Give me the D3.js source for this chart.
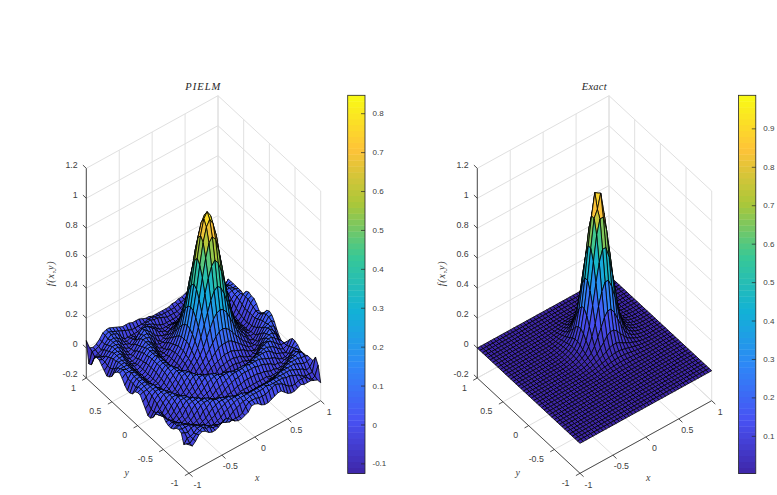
<!DOCTYPE html>
<html>
<head>
<meta charset="utf-8">
<style>
  html, body { margin: 0; padding: 0; background: #fff; }
  svg { display: block; }
  text { font-family: "Liberation Sans", Arial, sans-serif; fill: #404040; }
  .math { font-family: "Liberation Serif", serif; font-style: italic; }
</style>
<script src="https://d3js.org/d3.v7.min.js"></script>
</head>
<body>
<svg id="fig" width="777" height="495"></svg>
<script>
// Axis ticks shared by both surface panels
const xTicks = [-1, -0.5, 0, 0.5, 1];
const yTicks = [-1, -0.5, 0, 0.5, 1];
const zTicks = [-0.2, 0, 0.2, 0.4, 0.6, 0.8, 1, 1.2];
const meshX = d3.range(41);
const meshStep = 0.05;

// Colour bar ranges and ticks
const pielmRange = [-0.126, 0.846];
const exactRange = [0.002, 0.986];
const pielmBarTicks = [-0.1, 0, 0.1, 0.2, 0.3, 0.4, 0.5, 0.6, 0.7, 0.8];
const exactBarTicks = [0.1, 0.2, 0.3, 0.4, 0.5, 0.6, 0.7, 0.8, 0.9];

// Parula colour stops
const parula = ["#3e26a8", "#4852f4", "#2e87f7", "#12b1d6", "#37c897", "#abc739", "#fec338", "#f9fb14"];

// PIELM solution, one row per y from -1 to 1, one column per x from -1 to 1
const pielmZ = [
[-.01,-.03,-.01,.02,.03,.02,0,-.01,-.01,0,.02,.03,.02,0,-.02,-.03,-.03,-.02,-.01,.02,.02,.01,-.01,-.02,-.02,-.01,0,.01,.01,-.01,-.03,-.04,-.04,-.03,-.02,-.03,-.03,-.03,-.04,-.05,-.08],
[-.02,-.03,-.01,.01,.02,.03,.01,.01,-.01,-.01,-.01,-.01,-.02,-.03,-.03,-.03,-.03,-.02,.01,.03,.03,.03,.02,.02,.02,.03,.04,.05,.04,.03,.01,-.01,-.02,-.02,-.01,-.01,-.01,-.03,-.05,-.04,.02],
[-.04,-.01,-.01,0,.02,.02,.02,0,-.01,-.02,-.03,-.04,-.03,-.03,-.02,0,.01,.02,.03,.03,.04,.04,.04,.04,.04,.05,.04,.04,.04,.04,.04,.03,.03,.02,.01,0,-.02,-.03,-.03,-.03,.06],
[.02,.01,0,.02,.02,.01,0,-.01,-.03,-.04,-.04,-.03,-.02,0,.01,.02,.03,.04,.04,.04,.04,.04,.04,.04,.04,.04,.04,.04,.04,.04,.04,.04,.04,.04,.03,.02,.01,0,-.02,-.01,.02],
[.03,.02,.02,.02,.01,0,-.02,-.03,-.04,-.03,-.02,-.01,.01,.02,.03,.04,.04,.04,.04,.04,.03,.02,.02,.02,.02,.02,.02,.02,.02,.02,.03,.04,.04,.04,.04,.04,.03,.02,.01,.01,.02],
[.02,.03,.02,.01,0,-.02,-.03,-.04,-.03,-.02,0,.02,.03,.04,.04,.04,.04,.03,.02,.01,0,0,-.01,-.01,-.01,-.02,-.01,-.01,-.01,0,0,.01,.02,.03,.04,.04,.04,.04,.03,.03,.02],
[0,.01,.02,0,-.02,-.03,-.04,-.03,-.02,.01,.02,.04,.05,.04,.04,.03,.02,0,-.01,-.02,-.02,-.02,-.03,-.03,-.03,-.03,-.03,-.03,-.03,-.02,-.02,-.02,-.01,0,.02,.03,.04,.04,.05,.04,.01],
[-.01,.01,0,-.01,-.03,-.04,-.03,-.01,.01,.03,.04,.04,.04,.03,.02,0,-.01,-.02,-.03,-.03,-.03,-.02,-.02,-.02,-.02,-.02,-.02,-.02,-.02,-.02,-.03,-.03,-.03,-.02,-.01,0,.02,.03,.04,.03,.01],
[-.01,0,-.01,-.03,-.04,-.03,-.02,.01,.03,.04,.04,.04,.03,.01,-.01,-.02,-.03,-.03,-.02,-.02,-.01,0,0,.01,.01,.01,.01,.01,0,0,-.01,-.02,-.02,-.03,-.03,-.02,-.01,.01,.03,.03,.01],
[0,0,-.02,-.04,-.03,-.02,.01,.03,.04,.04,.04,.02,0,-.02,-.02,-.03,-.02,-.02,0,.01,.02,.03,.03,.04,.04,.04,.04,.04,.03,.03,.02,.01,0,-.02,-.02,-.03,-.02,-.02,0,.02,.03],
[.02,-.01,-.03,-.04,-.02,0,.02,.04,.04,.04,.02,0,-.02,-.03,-.03,-.02,0,.01,.02,.03,.04,.05,.05,.05,.05,.06,.05,.05,.05,.05,.04,.03,.02,.01,0,-.02,-.03,-.03,-.02,.01,.04],
[.03,-.01,-.04,-.03,-.01,.02,.04,.04,.04,.02,0,-.02,-.03,-.02,-.01,0,.02,.04,.05,.05,.05,.05,.04,.04,.04,.04,.04,.04,.04,.05,.05,.05,.05,.04,.02,0,-.01,-.02,-.03,0,.04],
[.02,-.02,-.03,-.02,.01,.03,.05,.04,.03,0,-.02,-.03,-.02,-.01,.01,.03,.04,.05,.05,.04,.04,.03,.02,.01,.01,.01,.01,.01,.02,.03,.04,.04,.05,.05,.04,.03,.01,-.01,-.02,-.01,.02],
[-.01,-.03,-.03,0,.02,.04,.04,.03,.01,-.02,-.03,-.02,-.01,.01,.03,.05,.06,.05,.04,.02,.01,-.01,-.02,-.03,-.03,-.04,-.03,-.03,-.02,-.01,.01,.02,.04,.05,.06,.05,.03,.01,-.01,-.01,-.01],
[-.05,-.03,-.02,.01,.03,.04,.04,.02,-.01,-.02,-.03,-.01,.01,.03,.05,.05,.04,.03,.01,-.01,-.03,-.04,-.04,-.05,-.05,-.05,-.05,-.05,-.04,-.04,-.03,-.01,.01,.03,.04,.05,.05,.03,.01,-.01,-.04],
[-.07,-.04,0,.02,.04,.04,.03,0,-.02,-.03,-.02,0,.03,.05,.05,.04,.02,0,-.03,-.04,-.05,-.04,-.03,-.03,-.02,-.02,-.02,-.03,-.03,-.04,-.05,-.04,-.03,0,.02,.04,.05,.05,.03,-.02,-.05],
[-.07,-.04,.01,.03,.04,.04,.02,-.01,-.03,-.02,0,.02,.04,.06,.04,.02,-.01,-.03,-.04,-.05,-.04,-.03,-.01,-.01,0,0,0,-.01,-.01,-.03,-.04,-.05,-.04,-.03,-.01,.02,.04,.06,.04,.01,-.03],
[-.04,-.02,.02,.04,.04,.03,0,-.02,-.03,-.02,.01,.04,.05,.05,.03,0,-.03,-.05,-.04,-.03,-.01,0,.01,.02,.03,.03,.03,.02,.01,0,-.01,-.03,-.04,-.05,-.03,0,.03,.05,.05,.04,0],
[-.01,.01,.03,.04,.04,.02,-.01,-.03,-.02,0,.02,.05,.05,.04,.01,-.03,-.04,-.04,-.03,-.01,.01,.03,.05,.07,.08,.08,.08,.07,.05,.03,.01,-.01,-.03,-.04,-.04,-.03,.01,.04,.05,.06,.04],
[.02,.03,.03,.04,.04,.01,-.02,-.03,-.02,.01,.03,.05,.04,.02,-.01,-.04,-.05,-.03,-.01,.01,.04,.07,.10,.13,.15,.16,.15,.13,.10,.07,.04,.01,-.01,-.03,-.05,-.04,-.01,.02,.04,.07,.07],
[.02,.03,.04,.04,.03,0,-.02,-.03,-.01,.02,.04,.05,.04,.01,-.03,-.05,-.04,-.01,.01,.04,.08,.13,.18,.23,.26,.27,.26,.23,.18,.13,.08,.04,.01,-.01,-.04,-.05,-.03,.01,.04,.07,.08],
[.01,.03,.04,.04,.02,0,-.02,-.02,0,.03,.05,.05,.03,-.01,-.04,-.04,-.03,0,.03,.07,.13,.20,.27,.34,.39,.41,.39,.34,.27,.20,.13,.07,.03,0,-.03,-.04,-.04,-.01,.03,.06,.07],
[-.02,.01,.04,.04,.02,-.01,-.03,-.02,0,.03,.05,.04,.02,-.02,-.04,-.04,-.01,.01,.05,.10,.18,.27,.38,.47,.54,.57,.54,.47,.38,.27,.18,.10,.05,.01,-.01,-.04,-.04,-.02,.02,.04,.04],
[-.03,.02,.04,.04,.02,-.01,-.03,-.02,.01,.04,.05,.04,.01,-.03,-.05,-.03,-.01,.02,.07,.13,.23,.34,.47,.59,.68,.71,.68,.59,.47,.34,.23,.13,.07,.02,-.01,-.03,-.05,-.03,.01,.03,.02],
[-.03,.02,.04,.04,.02,-.01,-.03,-.02,.01,.04,.05,.04,.01,-.03,-.05,-.03,0,.03,.08,.15,.26,.39,.54,.68,.77,.81,.77,.68,.54,.39,.26,.15,.08,.03,0,-.03,-.05,-.03,.01,.03,.02],
[-.01,.02,.05,.04,.02,-.02,-.03,-.02,.01,.04,.06,.04,.01,-.04,-.05,-.03,0,.03,.08,.16,.27,.41,.57,.71,.81,.846,.81,.71,.57,.41,.27,.16,.08,.03,0,-.03,-.05,-.04,.01,.04,.05],
[.02,.04,.04,.04,.02,-.01,-.03,-.02,.01,.04,.05,.04,.01,-.03,-.05,-.03,0,.03,.08,.15,.26,.39,.54,.68,.77,.81,.77,.68,.54,.39,.26,.15,.08,.03,0,-.03,-.05,-.03,.01,.05,.07],
[.04,.05,.04,.04,.02,-.01,-.03,-.02,.01,.04,.05,.04,.01,-.03,-.05,-.03,-.01,.02,.07,.13,.23,.34,.47,.59,.68,.71,.68,.59,.47,.34,.23,.13,.07,.02,-.01,-.03,-.05,-.03,.01,.06,.07],
[.03,.04,.04,.04,.02,-.01,-.03,-.02,0,.03,.05,.04,.02,-.02,-.04,-.04,-.01,.01,.05,.10,.18,.27,.38,.47,.54,.57,.54,.47,.38,.27,.18,.10,.05,.01,-.01,-.04,-.04,-.02,.02,.06,.08],
[.01,.03,.04,.04,.02,0,-.02,-.02,0,.03,.05,.05,.03,-.01,-.04,-.04,-.03,0,.03,.07,.13,.20,.27,.34,.39,.41,.39,.34,.27,.20,.13,.07,.03,0,-.03,-.04,-.04,-.01,.03,.06,.07],
[-.03,.01,.04,.04,.03,0,-.02,-.03,-.01,.02,.04,.05,.04,.01,-.03,-.05,-.04,-.01,.01,.04,.08,.13,.18,.23,.26,.27,.26,.23,.18,.13,.08,.04,.01,-.01,-.04,-.05,-.03,.01,.04,.05,.03],
[-.05,-.01,.03,.04,.04,.01,-.02,-.03,-.02,.01,.03,.05,.04,.02,-.01,-.04,-.05,-.03,-.01,.01,.04,.07,.10,.13,.15,.16,.15,.13,.10,.07,.04,.01,-.01,-.03,-.05,-.04,-.01,.02,.04,.05,.04],
[-.06,-.02,.03,.04,.04,.02,-.01,-.03,-.02,0,.02,.05,.05,.04,.01,-.03,-.04,-.04,-.03,-.01,.01,.03,.05,.07,.08,.08,.08,.07,.05,.03,.01,-.01,-.03,-.04,-.04,-.03,.01,.04,.05,.05,.04],
[-.04,-.02,.02,.04,.04,.03,0,-.02,-.03,-.02,.01,.04,.05,.05,.03,0,-.03,-.05,-.04,-.03,-.01,0,.01,.02,.03,.03,.03,.02,.01,0,-.01,-.03,-.04,-.05,-.03,0,.03,.05,.05,.04,.04],
[-.02,-.01,.01,.03,.04,.04,.02,-.01,-.03,-.02,0,.02,.04,.06,.04,.02,-.01,-.03,-.04,-.05,-.04,-.03,-.01,-.01,0,0,0,-.01,-.01,-.03,-.04,-.05,-.04,-.03,-.01,.02,.04,.05,.05,.04,.04],
[0,-.01,0,.02,.04,.04,.03,0,-.02,-.03,-.02,0,.03,.05,.05,.04,.02,0,-.03,-.04,-.05,-.04,-.03,-.03,-.02,-.02,-.02,-.03,-.03,-.04,-.05,-.04,-.03,0,.02,.04,.05,.05,.03,.03,.04],
[0,-.01,-.02,.01,.03,.04,.04,.02,-.01,-.02,-.03,-.01,-.02,0,.02,.02,.01,0,-.02,-.04,-.05,-.05,-.05,-.05,-.05,-.05,-.05,-.05,-.04,-.04,-.03,-.01,.01,.03,.04,.05,.05,.03,.01,.01,.04],
[-.02,-.02,-.03,0,.02,.04,.04,.03,.01,-.02,-.03,-.02,-.02,-.04,-.02,0,.01,0,-.01,-.03,-.04,-.05,-.05,-.05,-.05,-.05,-.04,-.03,-.02,-.01,.01,.02,.03,.04,.05,.05,.03,.01,-.01,0,-.01],
[-.08,-.04,-.03,-.02,.01,.03,.05,.04,.03,0,-.03,-.03,-.03,-.03,-.03,-.02,-.01,0,0,-.01,-.01,-.02,-.03,-.04,-.04,-.04,-.04,-.03,-.02,-.01,0,.02,.03,.03,.03,.02,.01,-.01,-.02,-.03,-.03],
[-.09,-.02,-.02,-.01,.01,.04,.05,.04,.03,.02,.01,0,-.01,-.02,-.02,-.02,-.02,-.02,-.01,-.01,-.02,-.02,-.03,-.03,-.03,-.03,-.03,-.02,-.02,-.01,0,.01,.02,.02,.01,0,-.01,-.02,-.03,-.02,-.02],
[.05,-.01,-.02,-.01,.01,.04,.05,.05,.04,.03,.02,.01,.01,.01,0,0,0,-.01,-.02,-.02,-.03,-.03,-.03,-.03,-.03,-.03,-.02,-.02,-.01,-.01,0,.01,.02,.02,.02,.01,0,-.01,-.02,-.01,0]
];

// Exact solution on the same mesh
const exactZ = [
[0,0,0,0,0,0,0,0,0,0,0,0,0,0,0,0,0,0,0,0,0,0,0,0,0,0,0,0,0,0,0,0,0,0,0,0,0,0,0,0,0],
[0,0,0,0,0,0,0,0,0,0,0,0,0,0,0,0,0,0,0,0,0,0,0,0,0,0,0,0,0,0,0,0,0,0,0,0,0,0,0,0,0],
[0,0,0,0,0,0,0,0,0,0,0,0,0,0,0,0,0,0,0,0,0,0,0,0,0,0,0,0,0,0,0,0,0,0,0,0,0,0,0,0,0],
[0,0,0,0,0,0,0,0,0,0,0,0,0,0,0,0,0,0,0,0,0,0,0,0,0,0,0,0,0,0,0,0,0,0,0,0,0,0,0,0,0],
[0,0,0,0,0,0,0,0,0,0,0,0,0,0,0,0,0,0,0,0,0,0,0,0,0,0,0,0,0,0,0,0,0,0,0,0,0,0,0,0,0],
[0,0,0,0,0,0,0,0,0,0,0,0,0,0,0,0,0,0,0,0,0,0,0,0,0,0,0,0,0,0,0,0,0,0,0,0,0,0,0,0,0],
[0,0,0,0,0,0,0,0,0,0,0,0,0,0,0,0,0,0,0,0,0,0,0,0,0,0,0,0,0,0,0,0,0,0,0,0,0,0,0,0,0],
[0,0,0,0,0,0,0,0,0,0,0,0,0,0,0,0,0,0,0,0,0,0,0,0,0,0,0,0,0,0,0,0,0,0,0,0,0,0,0,0,0],
[0,0,0,0,0,0,0,0,0,0,0,0,0,0,0,0,0,0,0,0,0,0,0,0,0,0,0,0,0,0,0,0,0,0,0,0,0,0,0,0,0],
[0,0,0,0,0,0,0,0,0,0,0,0,0,0,0,0,0,0,0,0,0,0,0,0,0,0,0,0,0,0,0,0,0,0,0,0,0,0,0,0,0],
[0,0,0,0,0,0,0,0,0,0,0,0,0,0,0,0,0,0,0,0,0,0,0,0,0,0,0,0,0,0,0,0,0,0,0,0,0,0,0,0,0],
[0,0,0,0,0,0,0,0,0,0,0,0,0,0,0,0,0,0,0,0,0,0,0,0,0,0,0,0,0,0,0,0,0,0,0,0,0,0,0,0,0],
[0,0,0,0,0,0,0,0,0,0,0,0,0,0,0,0,0,0,0,0,0,0,0,0,0,0,0,0,0,0,0,0,0,0,0,0,0,0,0,0,0],
[0,0,0,0,0,0,0,0,0,0,0,0,0,0,0,0,0,0,0,0,0,.001,.002,.002,.002,.002,.002,.002,.001,0,0,0,0,0,0,0,0,0,0,0,0],
[0,0,0,0,0,0,0,0,0,0,0,0,0,0,0,0,0,0,0,.001,.003,.004,.005,.006,.006,.006,.006,.005,.004,.003,.001,0,0,0,0,0,0,0,0,0,0],
[0,0,0,0,0,0,0,0,0,0,0,0,0,0,0,0,0,.001,.002,.004,.006,.008,.01,.012,.013,.013,.012,.01,.008,.006,.004,.002,.001,0,0,0,0,0,0,0,0],
[0,0,0,0,0,0,0,0,0,0,0,0,0,0,0,0,.001,.003,.005,.008,.012,.016,.02,.023,.025,.025,.023,.02,.016,.012,.008,.005,.003,.001,0,0,0,0,0,0,0],
[0,0,0,0,0,0,0,0,0,0,0,0,0,0,0,.001,.003,.006,.01,.015,.021,.028,.034,.04,.043,.043,.04,.034,.028,.021,.015,.01,.006,.003,.001,0,0,0,0,0,0],
[0,0,0,0,0,0,0,0,0,0,0,0,0,0,0,.002,.005,.01,.016,.025,.034,.046,.057,.072,.079,.079,.072,.057,.046,.034,.025,.016,.01,.005,.002,0,0,0,0,0,0],
[0,0,0,0,0,0,0,0,0,0,0,0,0,0,.001,.004,.008,.015,.025,.037,.052,.079,.103,.134,.151,.151,.134,.103,.079,.052,.037,.025,.015,.008,.004,.001,0,0,0,0,0],
[0,0,0,0,0,0,0,0,0,0,0,0,0,0,.003,.006,.012,.021,.034,.052,.087,.134,.186,.242,.275,.275,.242,.186,.134,.087,.052,.034,.021,.012,.006,.003,0,0,0,0,0],
[0,0,0,0,0,0,0,0,0,0,0,0,0,.001,.004,.008,.016,.028,.046,.079,.134,.208,.312,.398,.452,.452,.398,.312,.208,.134,.079,.046,.028,.016,.008,.004,.001,0,0,0,0],
[0,0,0,0,0,0,0,0,0,0,0,0,0,.002,.005,.01,.02,.034,.057,.103,.186,.312,.452,.577,.654,.654,.577,.452,.312,.186,.103,.057,.034,.02,.01,.005,.002,0,0,0,0],
[0,0,0,0,0,0,0,0,0,0,0,0,0,.002,.006,.012,.023,.04,.072,.134,.242,.398,.577,.745,.841,.841,.745,.577,.398,.242,.134,.072,.04,.023,.012,.006,.002,0,0,0,0],
[0,0,0,0,0,0,0,0,0,0,0,0,0,.002,.006,.013,.025,.043,.079,.151,.275,.452,.654,.841,.89,.986,.841,.654,.452,.275,.151,.079,.043,.025,.013,.006,.002,0,0,0,0],
[0,0,0,0,0,0,0,0,0,0,0,0,0,.002,.006,.013,.025,.043,.079,.151,.275,.452,.654,.841,.986,.97,.841,.654,.452,.275,.151,.079,.043,.025,.013,.006,.002,0,0,0,0],
[0,0,0,0,0,0,0,0,0,0,0,0,0,.002,.006,.012,.023,.04,.072,.134,.242,.398,.577,.745,.841,.841,.745,.577,.398,.242,.134,.072,.04,.023,.012,.006,.002,0,0,0,0],
[0,0,0,0,0,0,0,0,0,0,0,0,0,.002,.005,.01,.02,.034,.057,.103,.186,.312,.452,.577,.654,.654,.577,.452,.312,.186,.103,.057,.034,.02,.01,.005,.002,0,0,0,0],
[0,0,0,0,0,0,0,0,0,0,0,0,0,.001,.004,.008,.016,.028,.046,.079,.134,.208,.312,.398,.452,.452,.398,.312,.208,.134,.079,.046,.028,.016,.008,.004,.001,0,0,0,0],
[0,0,0,0,0,0,0,0,0,0,0,0,0,0,.003,.006,.012,.021,.034,.052,.087,.134,.186,.242,.275,.275,.242,.186,.134,.087,.052,.034,.021,.012,.006,.003,0,0,0,0,0],
[0,0,0,0,0,0,0,0,0,0,0,0,0,0,.001,.004,.008,.015,.025,.037,.052,.079,.103,.134,.151,.151,.134,.103,.079,.052,.037,.025,.015,.008,.004,.001,0,0,0,0,0],
[0,0,0,0,0,0,0,0,0,0,0,0,0,0,0,.002,.005,.01,.016,.025,.034,.046,.057,.072,.079,.079,.072,.057,.046,.034,.025,.016,.01,.005,.002,0,0,0,0,0,0],
[0,0,0,0,0,0,0,0,0,0,0,0,0,0,0,.001,.003,.006,.01,.015,.021,.028,.034,.04,.043,.043,.04,.034,.028,.021,.015,.01,.006,.003,.001,0,0,0,0,0,0],
[0,0,0,0,0,0,0,0,0,0,0,0,0,0,0,0,.001,.003,.005,.008,.012,.016,.02,.023,.025,.025,.023,.02,.016,.012,.008,.005,.003,.001,0,0,0,0,0,0,0],
[0,0,0,0,0,0,0,0,0,0,0,0,0,0,0,0,0,.001,.002,.004,.006,.008,.01,.012,.013,.013,.012,.01,.008,.006,.004,.002,.001,0,0,0,0,0,0,0,0],
[0,0,0,0,0,0,0,0,0,0,0,0,0,0,0,0,0,0,0,.001,.003,.004,.005,.006,.006,.006,.006,.005,.004,.003,.001,0,0,0,0,0,0,0,0,0,0],
[0,0,0,0,0,0,0,0,0,0,0,0,0,0,0,0,0,0,0,0,0,.001,.002,.002,.002,.002,.002,.002,.001,0,0,0,0,0,0,0,0,0,0,0,0],
[0,0,0,0,0,0,0,0,0,0,0,0,0,0,0,0,0,0,0,0,0,0,0,0,0,0,0,0,0,0,0,0,0,0,0,0,0,0,0,0,0],
[0,0,0,0,0,0,0,0,0,0,0,0,0,0,0,0,0,0,0,0,0,0,0,0,0,0,0,0,0,0,0,0,0,0,0,0,0,0,0,0,0],
[0,0,0,0,0,0,0,0,0,0,0,0,0,0,0,0,0,0,0,0,0,0,0,0,0,0,0,0,0,0,0,0,0,0,0,0,0,0,0,0,0],
[0,0,0,0,0,0,0,0,0,0,0,0,0,0,0,0,0,0,0,0,0,0,0,0,0,0,0,0,0,0,0,0,0,0,0,0,0,0,0,0,0]
];

const svg = d3.select("#fig");

// Oblique projection of the plot box: each data axis contributes a screen offset
const xToDx = d3.scaleLinear([-1, 1], [0, 131.7]);
const xToDy = d3.scaleLinear([-1, 1], [0, -72.6]);
const yToDx = d3.scaleLinear([-1, 1], [0, -102.7]);
const yToDy = d3.scaleLinear([-1, 1], [0, -95.3]);
const zToDy = d3.scaleLinear([-0.2, 1.2], [0, -209.7]);
const frontCorner = [189, 473.3];
const project = (x, y, z) => [
  frontCorner[0] + xToDx(x) + yToDx(y),
  frontCorner[1] + xToDy(x) + yToDy(y) + zToDy(z)
];
const pathOf = pts => "M" + pts.map(p => p[0].toFixed(2) + "," + p[1].toFixed(2)).join("L");
const parulaAt = d3.scaleLinear(d3.range(8).map(k => k / 7), parula).clamp(true);

function drawPanel(dx, title, spacing, zRows, range, barTicks, barX) {
  const g = svg.append("g").attr("transform", `translate(${dx},0)`);
  const zMin = -0.2, zMax = 1.2;

  // Grid on the floor and the two back walls
  const gridLines = [];
  xTicks.forEach(x => {
    gridLines.push([project(x, -1, zMin), project(x, 1, zMin)]);
    gridLines.push([project(x, 1, zMin), project(x, 1, zMax)]);
  });
  yTicks.forEach(y => {
    gridLines.push([project(-1, y, zMin), project(1, y, zMin)]);
    gridLines.push([project(1, y, zMin), project(1, y, zMax)]);
  });
  zTicks.forEach(z => {
    gridLines.push([project(-1, 1, z), project(1, 1, z)]);
    gridLines.push([project(1, 1, z), project(1, -1, z)]);
  });
  g.append("g").selectAll("path").data(gridLines).join("path")
    .attr("d", pathOf).attr("fill", "none").attr("stroke", "#e0e0e0").attr("stroke-width", 1);

  // Box axes
  const axisPaths = [
    [project(-1, 1, zMin), project(-1, 1, zMax)],
    [project(-1, 1, zMin), project(-1, -1, zMin)],
    [project(-1, -1, zMin), project(1, -1, zMin)]
  ];
  zTicks.forEach(z => {
    const p = project(-1, 1, z);
    axisPaths.push([p, [p[0] - 3.4, p[1] - 3.2]]);
  });
  xTicks.forEach(x => {
    const p = project(x, -1, zMin);
    axisPaths.push([p, [p[0] + 3.6, p[1] + 3.4]]);
  });
  yTicks.forEach(y => {
    const p = project(-1, y, zMin);
    axisPaths.push([p, [p[0] - 4.1, p[1] + 2.3]]);
  });
  g.append("g").selectAll("path").data(axisPaths).join("path")
    .attr("d", pathOf).attr("fill", "none").attr("stroke", "#262626").attr("stroke-width", 0.8);

  // Tick labels
  const labels = g.append("g").attr("font-size", 8.8);
  labels.selectAll(".zt").data(zTicks).join("text").attr("class", "zt")
    .attr("x", d => project(-1, 1, d)[0] - 8.6).attr("y", d => project(-1, 1, d)[1] - 3)
    .attr("text-anchor", "end").attr("dominant-baseline", "middle").text(d => d);
  labels.selectAll(".xt").data(xTicks).join("text").attr("class", "xt")
    .attr("x", d => project(d, -1, zMin)[0] + 8.5).attr("y", d => project(d, -1, zMin)[1] + 12)
    .attr("text-anchor", "middle").attr("dominant-baseline", "middle").text(d => d);
  labels.selectAll(".yt").data(yTicks).join("text").attr("class", "yt")
    .attr("x", d => project(-1, d, zMin)[0] - 10.5).attr("y", d => project(-1, d, zMin)[1] + 10.3)
    .attr("text-anchor", "end").attr("dominant-baseline", "middle").text(d => d);

  // Axis titles
  g.append("text").attr("class", "math").attr("x", 203.3).attr("y", 90)
    .attr("text-anchor", "middle").attr("font-size", 10.5).attr("letter-spacing", spacing)
    .style("fill", "#262626").text(title);
  g.append("text").attr("class", "math").attr("x", 257.3).attr("y", 481)
    .attr("text-anchor", "middle").attr("font-size", 10).text("x");
  g.append("text").attr("class", "math").attr("x", 126.7).attr("y", 476)
    .attr("text-anchor", "middle").attr("font-size", 10).text("y");
  g.append("text").attr("class", "math")
    .attr("transform", "translate(53.5,273.5) rotate(-90)")
    .attr("text-anchor", "middle").attr("font-size", 10).attr("letter-spacing", 0.8).text("f(x,y)");

  // Surface patches, painted from the far corner toward the viewer
  const colorOf = d3.scaleLinear(range, [0, 1]).clamp(true);
  const cells = [];
  for (let j = meshX.length - 2; j >= 0; j--) {
    for (let i = meshX.length - 2; i >= 0; i--) {
      cells.push({ i, j });
    }
  }
  const coord = k => -1 + k * meshStep;
  g.append("g").selectAll("path").data(cells).join("path")
    .attr("d", ({ i, j }) => pathOf([
      project(coord(i), coord(j), zRows[j][i]),
      project(coord(i + 1), coord(j), zRows[j][i + 1]),
      project(coord(i + 1), coord(j + 1), zRows[j + 1][i + 1]),
      project(coord(i), coord(j + 1), zRows[j + 1][i])
    ]) + "Z")
    .attr("fill", ({ i, j }) => parulaAt(colorOf(zRows[j][i])))
    .attr("stroke", "#000").attr("stroke-width", 0.8).attr("stroke-linejoin", "round");

  // Colour bar with inward ticks
  const barW = 17.3, barTop = 95.3, barBottom = 473.5;
  const barScale = d3.scaleLinear(range, [barBottom, barTop]);
  const bar = svg.append("g").attr("transform", `translate(${barX},0)`);
  const bands = d3.range(64);
  bar.selectAll("rect").data(bands).join("rect")
    .attr("x", 0).attr("width", barW)
    .attr("y", d => barBottom - (d + 1) * (barBottom - barTop) / 64)
    .attr("height", (barBottom - barTop) / 64 + 0.4)
    .attr("fill", d => parulaAt((d + 0.5) / 64));
  bar.append("rect").attr("x", 0).attr("y", barTop).attr("width", barW)
    .attr("height", barBottom - barTop).attr("fill", "none")
    .attr("stroke", "#262626").attr("stroke-width", 0.8);
  const axis = d3.axisRight(barScale).tickValues(barTicks).tickSize(-4).tickPadding(7.5).tickFormat(d => d);
  const ax = bar.append("g").attr("transform", `translate(${barW},0)`).call(axis);
  ax.select(".domain").remove();
  ax.selectAll("line").attr("stroke", "#262626").attr("stroke-width", 0.7);
  ax.selectAll("text").attr("font-size", 8).attr("font-family", null).style("fill", "#404040");
}

drawPanel(0, "PIELM", 1, pielmZ, pielmRange, pielmBarTicks, 347.7);
drawPanel(391, "Exact", 0.2, exactZ, exactRange, exactBarTicks, 738.5);
</script>
</body>
</html>
